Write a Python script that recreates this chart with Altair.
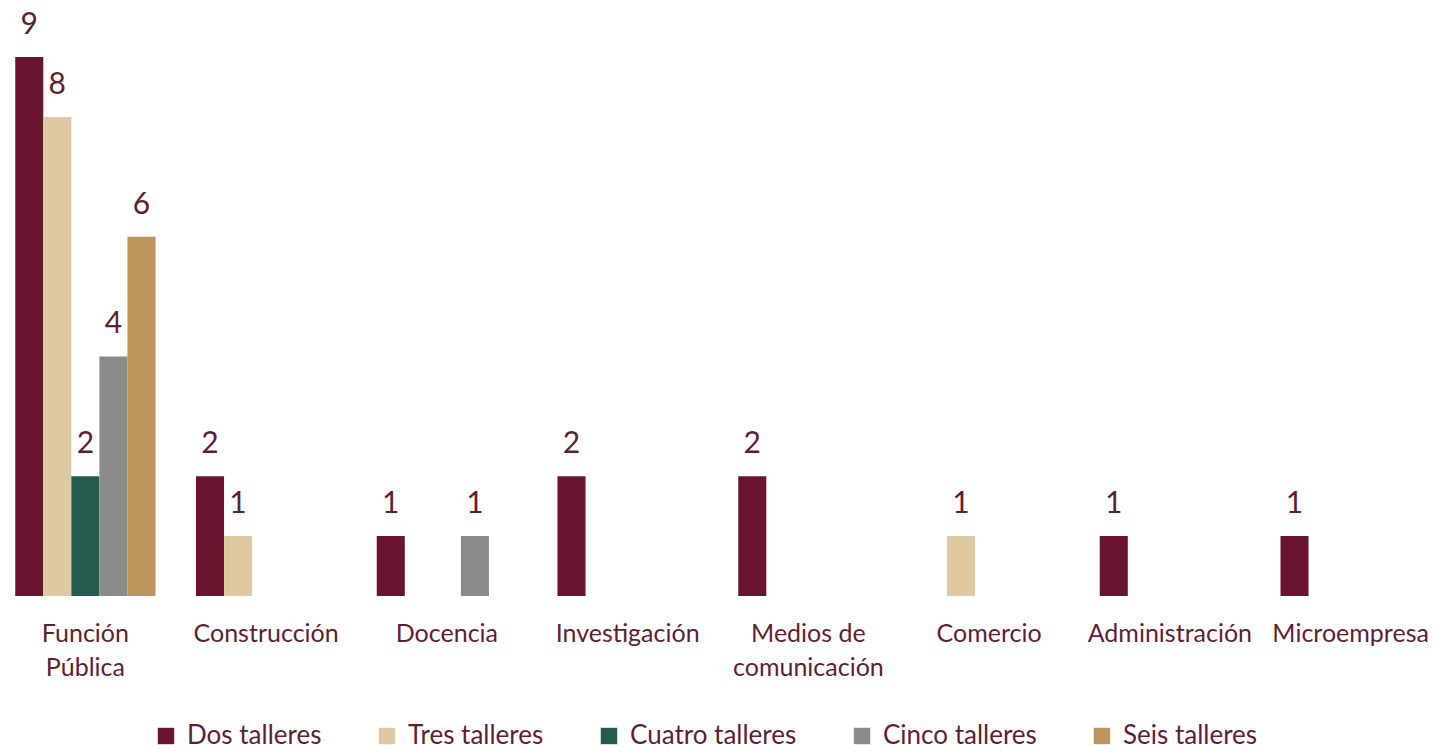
import altair as alt
import pandas as pd

categories = ["Función Pública", "Construcción", "Docencia", "Investigación",
              "Medios de comunicación", "Comercio", "Administración", "Microempresa"]
labels = ["Función\nPública", "Construcción", "Docencia", "Investigación",
          "Medios de\ncomunicación", "Comercio", "Administración", "Microempresa"]
series = ["Dos talleres", "Tres talleres", "Cuatro talleres", "Cinco talleres", "Seis talleres"]
colors = ["#6A1530", "#DFC9A0", "#235B4E", "#8B8B8B", "#BC955C"]

dos    = [9, 2, 1, 2, 2, 0, 1, 1]
tres   = [8, 1, 0, 0, 0, 1, 0, 0]
cuatro = [2, 0, 0, 0, 0, 0, 0, 0]
cinco  = [4, 0, 1, 0, 0, 0, 0, 0]
seis   = [6, 0, 0, 0, 0, 0, 0, 0]

rows = []
for s, vals in zip(series, [dos, tres, cuatro, cinco, seis]):
    for c, lab, v in zip(categories, labels, vals):
        if v:
            rows.append({"cat": lab, "serie": s, "valor": v})
df = pd.DataFrame(rows)

FONT = "Lato"
TXT = "#5E1F35"

x = alt.X("cat:N", sort=labels, title=None,
          scale=alt.Scale(domain=labels, range=[-5, 1441], paddingInner=0.224, paddingOuter=0.112),
          axis=alt.Axis(labelAngle=0, domain=False, ticks=False, labelFontSize=25,
                        labelFont=FONT, labelColor=TXT, labelPadding=25, labelBaseline="top",
                        labelLineHeight=34, labelLimit=300,
                        labelExpr="split(datum.label, '\\n')"))
xo = alt.XOffset("serie:N", sort=series, scale=alt.Scale(domain=series, paddingInner=0, paddingOuter=0))
y = alt.Y("valor:Q", scale=alt.Scale(domain=[0, 9], nice=False), axis=None)

bars = alt.Chart(df).mark_bar().encode(
    x=x, xOffset=xo, y=y,
    color=alt.Color("serie:N", sort=series,
                    scale=alt.Scale(domain=series, range=colors),
                    legend=alt.Legend(title=None, orient="none", direction="horizontal",
                                      legendX=153, legendY=666, symbolType="square",
                                      symbolSize=270, symbolStrokeWidth=0, labelFontSize=26,
                                      labelFont=FONT, labelColor=TXT, columnPadding=52,
                                      symbolOffset=0, labelOffset=8, labelLimit=400))
)
text = alt.Chart(df).mark_text(baseline="alphabetic", dy=-23, fontSize=30, font=FONT, color=TXT).encode(
    x=x, xOffset=xo, y=y, text="valor:Q"
)

chart = (bars + text).properties(
    width=1443, height=539,
    background="white",
    autosize=alt.AutoSizeParams(type="none"),
    padding={"left": 0, "top": 57, "right": 0, "bottom": 155},
).configure_view(strokeWidth=0, stroke=None)

chart.save("out.html", embed_options={"renderer": "svg", "actions": False})
